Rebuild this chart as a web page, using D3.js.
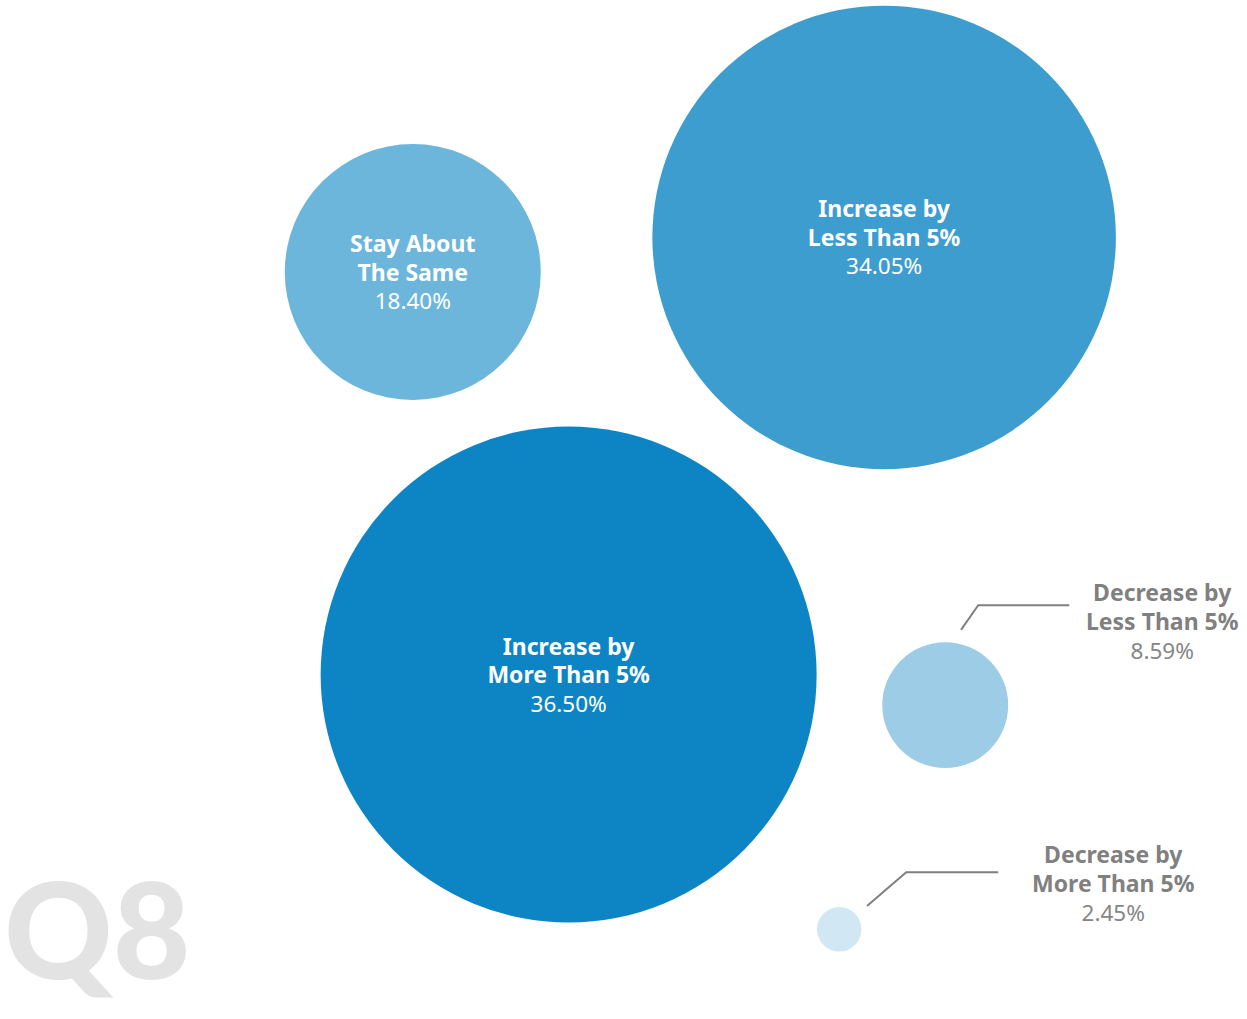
<!DOCTYPE html>
<html>
<head>
<meta charset="utf-8">
<script src="https://cdn.jsdelivr.net/npm/d3@7"></script>
<style>
  body { margin: 0; background: #fff; }
  svg { display: block; font-family: "Noto Sans", Lato, sans-serif; }
</style>
</head>
<body>
<div id="chart"></div>
<script>
// ----------------------------------------
// DATA

var categories = ["Stay About|The Same", "Increase by|Less Than 5%", "Increase by|More Than 5%", "Decrease by|Less Than 5%", "Decrease by|More Than 5%"];
var values = [18.40, 34.05, 36.50, 8.59, 2.45];
var colors = ["#6cb6dc", "#3d9dcf", "#0d85c5", "#9dcde6", "#d1e7f3"];

// hand placed layout, in percent of the page
var layoutX = [33.1, 70.9, 45.6, 75.8, 67.3];
var layoutY = [26.7, 23.3, 66.2, 69.2, 91.2];

// ----------------------------------------
// CHART

var width = 1247;
var height = 1019;

var svg = d3.select("#chart").append("svg")
  .attr("width", width)
  .attr("height", height);

var xScale = d3.scaleLinear().domain([0, 100]).range([0, width]);
var yScale = d3.scaleLinear().domain([0, 100]).range([0, height]);
var rScale = d3.scaleLinear().domain([0, d3.max(values)]).range([6, 248]);

var data = categories.map(function (c, i) {
  return {
    lines: c.split("|"),
    value: values[i],
    color: colors[i],
    x: xScale(layoutX[i]),
    y: yScale(layoutY[i]),
    r: rScale(values[i]),
    inside: values[i] > 10
  };
});

// big watermark
svg.append("text")
  .attr("x", 4)
  .attr("y", 979)
  .attr("fill", "#e3e3e3")
  .style("font-family", "Lato, sans-serif")
  .style("font-size", "134px")
  .style("font-weight", 900)
  .text("Q8");

var g = svg.selectAll("g.bubble")
  .data(data)
  .enter().append("g")
  .attr("class", "bubble")
  .attr("transform", function (d) { return "translate(" + d.x + "," + d.y + ")"; });

g.append("circle")
  .attr("r", function (d) { return d.r; })
  .attr("fill", function (d) { return d.color; });

// labels inside the big bubbles
var inner = g.filter(function (d) { return d.inside; });

inner.append("text")
  .attr("text-anchor", "middle")
  .attr("fill", "#fff")
  .style("font-size", "23px")
  .style("font-weight", 700)
  .selectAll("tspan")
  .data(function (d) { return d.lines; })
  .enter().append("tspan")
  .attr("x", 0)
  .attr("y", function (d, i) { return -20 + i * 28.5; })
  .text(function (d) { return d; });

inner.append("text")
  .attr("text-anchor", "middle")
  .attr("y", 37)
  .attr("fill", "#fff")
  .style("font-size", "22.5px")
  .style("font-weight", 400)
  .text(function (d) { return d.value.toFixed(2) + "%"; });

// callouts for the small bubbles
var callouts = [
  { start: [13, -62], elbow: [33, -100], end: [124, -100], label: [217, -104] },
  { start: [31, -26], elbow: [67, -57], end: [159, -57], label: [274, -66] }
];
var gap = 14;

var outer = g.filter(function (d) { return !d.inside; });

outer.append("path")
  .attr("fill", "none")
  .attr("stroke", "#808080")
  .attr("stroke-width", 2)
  .attr("d", function (d, i) {
    var c = callouts[i];
    var len = Math.hypot(c.start[0], c.start[1]);
    var k = (d.r + gap) / len;
    return d3.line()([[c.start[0] * k, c.start[1] * k], c.elbow, c.end]);
  });

outer.append("text")
  .attr("text-anchor", "middle")
  .attr("fill", "#808080")
  .style("font-size", "23px")
  .style("font-weight", 700)
  .selectAll("tspan")
  .data(function (d, i) { return d.lines.map(function (l) { return { text: l, c: callouts[i] }; }); })
  .enter().append("tspan")
  .attr("x", function (d) { return d.c.label[0]; })
  .attr("y", function (d, i) { return d.c.label[1] + i * 29; })
  .text(function (d) { return d.text; });

outer.append("text")
  .attr("text-anchor", "middle")
  .attr("x", function (d, i) { return callouts[i].label[0]; })
  .attr("y", function (d, i) { return callouts[i].label[1] + 58; })
  .attr("fill", "#868686")
  .style("font-size", "22.5px")
  .style("font-weight", 400)
  .text(function (d) { return d.value.toFixed(2) + "%"; });
</script>
</body>
</html>
